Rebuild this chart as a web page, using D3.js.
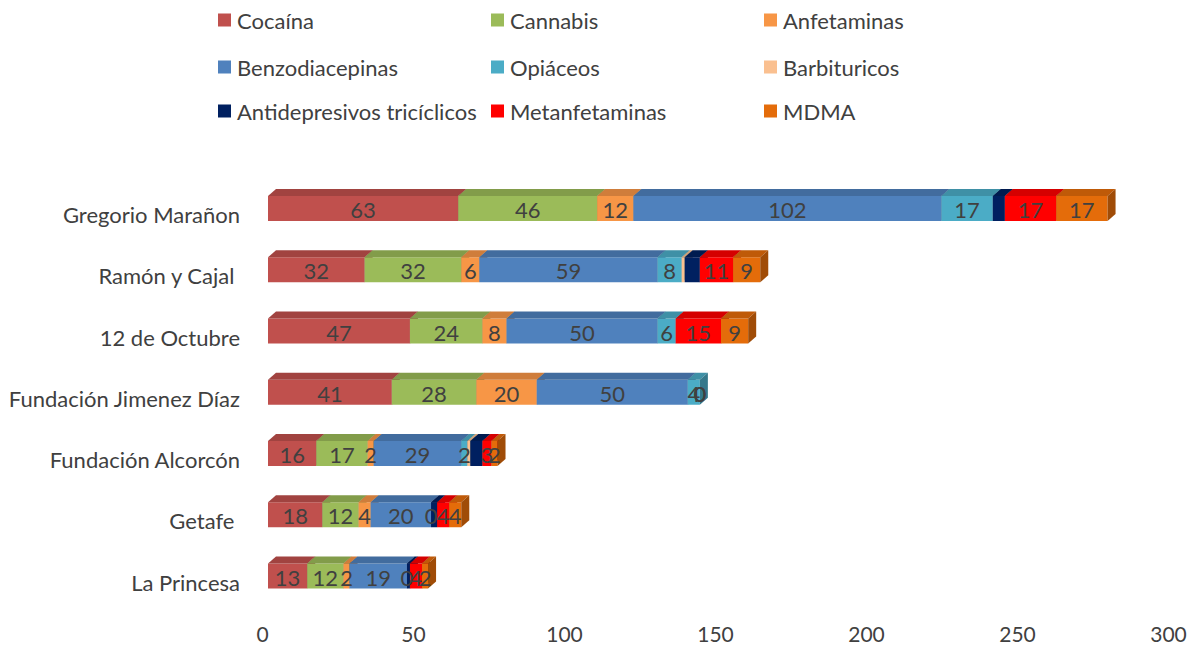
<!DOCTYPE html>
<html><head><meta charset="utf-8">
<script src="https://cdn.jsdelivr.net/npm/d3@7"></script>
<style>body{margin:0;background:#fff} text{font-family:Lato,"Open Sans",sans-serif} .cat{white-space:pre}</style>
</head><body>
<svg id="c" width="1193" height="650"></svg>
<script>
const hospitals = ["Gregorio Marañon","Ramón y Cajal ","12 de Octubre","Fundación Jimenez Díaz","Fundación Alcorcón","Getafe ","La Princesa"];
const seriesNames = ["Cocaína","Cannabis","Anfetaminas","Benzodiacepinas","Opiáceos","Barbituricos","Antidepresivos tricíclicos","Metanfetaminas","MDMA"];
const seriesColors = ["#C0504D","#9BBB59","#F79646","#4F81BD","#4BACC6","#FAC090","#002060","#FF0000","#E46C0A"];
const cocaina = [63,32,47,41,16,18,13];
const cannabis = [46,32,24,28,17,12,12];
const anfetaminas = [12,6,8,20,2,4,2];
const benzodiacepinas = [102,59,50,50,29,20,19];
const opiaceos = [17,8,6,4,2,0,0];
const barbituricos = [0,1,0,0,1,0,0];
const antidepresivos = [4,5,0,0,4,2,1];
const metanfetaminas = [17,11,15,0,3,4,4];
const mdma = [17,9,9,0,2,4,2];
const xTicks = [0,50,100,150,200,250,300];
const labelledSeries = [true,true,true,true,true,false,false,true,true];

const seriesValues = [cocaina,cannabis,anfetaminas,benzodiacepinas,opiaceos,barbituricos,antidepresivos,metanfetaminas,mdma];
const svg = d3.select("#c");
const x = d3.scaleLinear().domain([0,300]).range([268,1174]);
const y = d3.scalePoint().domain(hospitals).range([208.5,576]);
const h = 25, dx = 8, dy = 7;
const textCol = "#404040";

// legend
const legX = [218,491,764], legY = [20,67,111];
const leg = svg.append("g");
seriesNames.forEach((n,i)=>{
  const cx = legX[i%3], cy = legY[Math.floor(i/3)];
  leg.append("rect").attr("x",cx).attr("y",cy-6.5).attr("width",13).attr("height",13).attr("fill",seriesColors[i]);
  leg.append("text").attr("x",cx+19).attr("y",cy).attr("dominant-baseline","central")
    .attr("font-size",22).attr("fill",textCol).text(n);
});

// bars
const bars = svg.append("g");
const labels = svg.append("g");
hospitals.forEach((hosp,hi)=>{
  const cy = y(hosp), y0 = cy - h/2, y1 = cy + h/2;
  let acc = 0;
  seriesValues.forEach((arr,si)=>{
    const v = arr[hi];
    const xa = x(acc), xb = x(acc+v);
    const c = d3.color(seriesColors[si]);
    if (v > 0) {
      bars.append("rect").attr("x",xa).attr("y",y0).attr("width",xb-xa).attr("height",h).attr("fill",c.formatHex());
      bars.append("path").attr("d",`M${xa},${y0}L${xa+dx},${y0-dy}L${xb+dx},${y0-dy}L${xb},${y0}Z`).attr("fill",c.darker(0.5).formatHex());
      bars.append("path").attr("d",`M${xb},${y0}L${xb+dx},${y0-dy}L${xb+dx},${y1-dy}L${xb},${y1}Z`).attr("fill",c.darker(1).formatHex());
    }
    if (labelledSeries[si]) {
      labels.append("text").attr("x",(xa+xb)/2).attr("y",cy+1).attr("text-anchor","middle")
        .attr("dominant-baseline","central").attr("font-size",22).attr("fill",textCol).text(v);
    }
    acc += v;
  });
  svg.append("text").attr("class","cat").attr("x",240).attr("y",cy+6).attr("text-anchor","end").attr("dominant-baseline","central")
    .attr("font-size",22).attr("fill",textCol).text(hosp);
});

// axis
const xAxisScale = x.copy().range([262,1168]);
const ax = svg.append("g").attr("transform","translate(0,627)")
  .call(d3.axisBottom(xAxisScale).tickValues(xTicks).tickSize(0).tickPadding(0));
ax.select(".domain").remove();
ax.selectAll("text").attr("font-size",21).attr("fill",textCol).attr("font-family","Lato, 'Open Sans', sans-serif").attr("dy","0.71em");
</script>
</body></html>
